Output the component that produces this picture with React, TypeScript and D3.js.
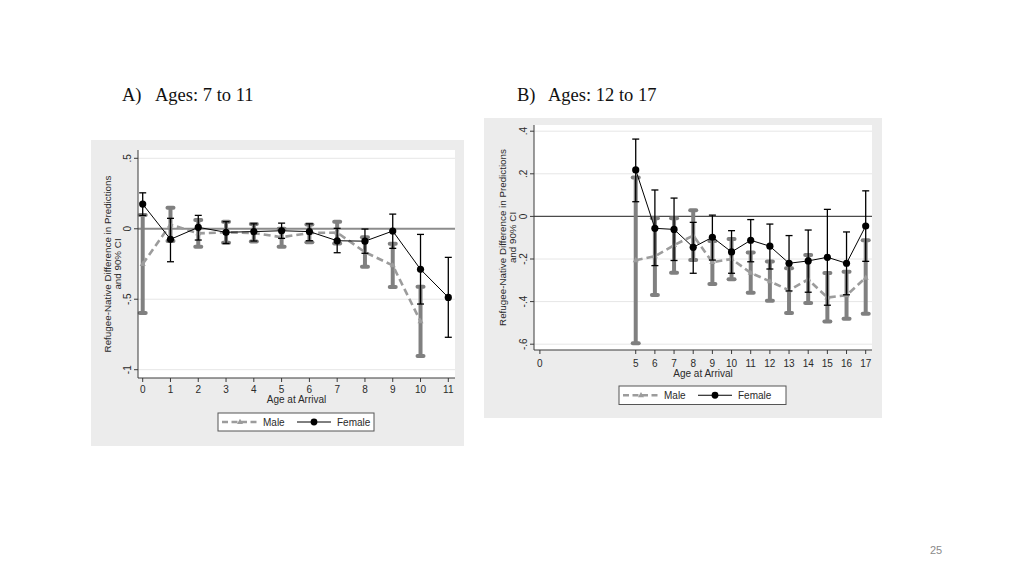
import React from "react";
import * as d3 from "d3";

// ---------- Panel A data (ages 7 to 11) ----------
const leftFemaleAges = [0, 1, 2, 3, 4, 5, 6, 7, 8, 9, 10, 11];
const leftFemale = [0.175, -0.075, 0.01, -0.025, -0.02, -0.014, -0.02, -0.085, -0.088, -0.016, -0.288, -0.487];
const leftFemaleLo = [0.095, -0.234, -0.08, -0.104, -0.087, -0.068, -0.085, -0.17, -0.174, -0.139, -0.534, -0.77];
const leftFemaleHi = [0.255, 0.074, 0.095, 0.05, 0.035, 0.04, 0.035, 0.003, -0.002, 0.104, -0.04, -0.203];
const leftMaleAges = [0, 1, 2, 3, 4, 5, 6, 7, 8, 9, 10];
const leftMale = [-0.25, 0.03, -0.033, -0.025, -0.03, -0.06, -0.03, -0.027, -0.166, -0.26, -0.657];
const leftMaleLo = [-0.598, -0.087, -0.127, -0.099, -0.09, -0.127, -0.095, -0.104, -0.27, -0.414, -0.903];
const leftMaleHi = [0.097, 0.149, 0.062, 0.05, 0.033, 0.0, 0.03, 0.05, -0.061, -0.106, -0.411];
const leftXTicks = [0, 1, 2, 3, 4, 5, 6, 7, 8, 9, 10, 11];
const leftYTicks = [0.5, 0, -0.5, -1];
const leftYTickLabels = [".5", "0", "-.5", "-1"];

// ---------- Panel B data (ages 12 to 17) ----------
const rightAges = [5, 6, 7, 8, 9, 10, 11, 12, 13, 14, 15, 16, 17];
const rightFemale = [0.218, -0.056, -0.061, -0.145, -0.098, -0.167, -0.112, -0.14, -0.22, -0.209, -0.192, -0.22, -0.045];
const rightFemaleLo = [0.069, -0.231, -0.207, -0.267, -0.205, -0.267, -0.213, -0.247, -0.35, -0.356, -0.417, -0.368, -0.211];
const rightFemaleHi = [0.363, 0.124, 0.086, -0.028, 0.006, -0.067, -0.015, -0.036, -0.09, -0.064, 0.033, -0.073, 0.12];
const rightMale = [-0.206, -0.187, -0.135, -0.09, -0.215, -0.2, -0.265, -0.305, -0.347, -0.296, -0.381, -0.37, -0.288];
const rightMaleLo = [-0.596, -0.369, -0.264, -0.205, -0.317, -0.295, -0.358, -0.396, -0.454, -0.407, -0.494, -0.481, -0.457];
const rightMaleHi = [0.183, -0.009, -0.009, 0.029, -0.115, -0.106, -0.17, -0.212, -0.244, -0.181, -0.266, -0.26, -0.112];
const rightXTicks = [0, 5, 6, 7, 8, 9, 10, 11, 12, 13, 14, 15, 16, 17];
const rightYTicks = [0.4, 0.2, 0, -0.2, -0.4, -0.6];
const rightYTickLabels = [".4", ".2", "0", "-.2", "-.4", "-.6"];

const yTitle1 = "Refugee-Native Difference in Predictions";
const yTitle2 = "and 90% CI";
const xTitle = "Age at Arrival";
const legendLabels = ["Male", "Female"];

const SANS = "'Liberation Sans', Arial, Helvetica, sans-serif";
const SERIF = "'Liberation Serif', 'Times New Roman', serif";
const MALE_BAR = "#808080";
const MALE_LINE = "#9c9c9c";
const TXT = "#2a2a2a";

type PanelProps = {
  bg: { x: number; y: number; w: number; h: number };
  plot: { x1: number; x2: number; y1: number; y2: number };
  xDomain: [number, number];
  xRange: [number, number];
  yDomain: [number, number];
  yRange: [number, number];
  xTicks: number[];
  yTicks: number[];
  yTickLabels: string[];
  zeroColor: string;
  zeroWidth: number;
  fAges: number[];
  f: number[];
  fLo: number[];
  fHi: number[];
  mAges: number[];
  m: number[];
  mLo: number[];
  mHi: number[];
  legend: { x: number; y: number; w: number; h: number };
  yTitleX: [number, number];
  yTickX: number;
  xTickY: number;
  xTitleY: number;
};

function triPath(cx: number, cy: number, s: number) {
  return `M${cx},${cy - s}L${cx + s * 0.95},${cy + s * 0.6}L${cx - s * 0.95},${cy + s * 0.6}Z`;
}

function Panel(p: PanelProps) {
  const x = d3.scaleLinear().domain(p.xDomain).range(p.xRange);
  const y = d3.scaleLinear().domain(p.yDomain).range(p.yRange);
  const maleLine = d3
    .line<number>()
    .x((_, i) => x(p.mAges[i]))
    .y((d) => y(d));
  const femLine = d3
    .line<number>()
    .x((_, i) => x(p.fAges[i]))
    .y((d) => y(d));
  const { plot } = p;
  const midY = (plot.y1 + plot.y2) / 2;
  const lg = p.legend;
  const lgCy = lg.y + lg.h / 2;
  const midX = (plot.x1 + plot.x2) / 2;
  return (
    <g>
      <rect x={p.bg.x} y={p.bg.y} width={p.bg.w} height={p.bg.h} fill="#ececec" />
      <rect x={plot.x1} y={plot.y1} width={plot.x2 - plot.x1} height={plot.y2 - plot.y1} fill="#ffffff" />
      {p.yTicks.map((t) =>
        t === 0 ? null : (
          <line key={"g" + t} x1={plot.x1} x2={plot.x2} y1={y(t)} y2={y(t)} stroke="#e6e6e6" strokeWidth={1} />
        )
      )}
      <line x1={plot.x1} x2={plot.x2} y1={y(0)} y2={y(0)} stroke={p.zeroColor} strokeWidth={p.zeroWidth} />
      {p.mAges.map((a, i) => (
        <g key={"mci" + a}>
          <line x1={x(a)} x2={x(a)} y1={y(p.mHi[i])} y2={y(p.mLo[i])} stroke={MALE_BAR} strokeWidth={4} />
          <line x1={x(a) - 3} x2={x(a) + 3} y1={y(p.mHi[i])} y2={y(p.mHi[i])} stroke={MALE_BAR} strokeWidth={4} strokeLinecap="round" />
          <line x1={x(a) - 3} x2={x(a) + 3} y1={y(p.mLo[i])} y2={y(p.mLo[i])} stroke={MALE_BAR} strokeWidth={4} strokeLinecap="round" />
        </g>
      ))}
      <path d={maleLine(p.m) || ""} fill="none" stroke={MALE_LINE} strokeWidth={2.6} strokeDasharray="7,4" />
      {p.mAges.map((a, i) => (
        <path key={"mt" + a} d={triPath(x(a), y(p.m[i]), 3.2)} fill={MALE_LINE} />
      ))}
      {p.fAges.map((a, i) => (
        <g key={"fci" + a}>
          <line x1={x(a)} x2={x(a)} y1={y(p.fHi[i])} y2={y(p.fLo[i])} stroke="#000" strokeWidth={1.3} />
          <line x1={x(a) - 3.5} x2={x(a) + 3.5} y1={y(p.fHi[i])} y2={y(p.fHi[i])} stroke="#000" strokeWidth={1.3} />
          <line x1={x(a) - 3.5} x2={x(a) + 3.5} y1={y(p.fLo[i])} y2={y(p.fLo[i])} stroke="#000" strokeWidth={1.3} />
        </g>
      ))}
      <path d={femLine(p.f) || ""} fill="none" stroke="#000" strokeWidth={1} />
      {p.fAges.map((a, i) => (
        <circle key={"fc" + a} cx={x(a)} cy={y(p.f[i])} r={3.6} fill="#000" />
      ))}
      <line x1={plot.x1} x2={plot.x1} y1={plot.y1} y2={plot.y2} stroke="#3a3a3a" strokeWidth={1} />
      <line x1={plot.x1} x2={plot.x2} y1={plot.y2} y2={plot.y2} stroke="#3a3a3a" strokeWidth={1} />
      {p.yTicks.map((t, i) => (
        <g key={"yt" + t}>
          <line x1={plot.x1 - 4} x2={plot.x1} y1={y(t)} y2={y(t)} stroke="#3a3a3a" strokeWidth={1} />
          <text
            transform={`translate(${p.yTickX},${y(t)}) rotate(-90)`}
            textAnchor="middle"
            dy="0.35em"
            fontFamily={SANS}
            fontSize={10}
            fill={TXT}
          >
            {p.yTickLabels[i]}
          </text>
        </g>
      ))}
      {p.xTicks.map((t) => (
        <g key={"xt" + t}>
          <line x1={x(t)} x2={x(t)} y1={plot.y2} y2={plot.y2 + 4} stroke="#3a3a3a" strokeWidth={1} />
          <text x={x(t)} y={p.xTickY} textAnchor="middle" fontFamily={SANS} fontSize={10} fill={TXT}>
            {t}
          </text>
        </g>
      ))}
      <text x={midX} y={p.xTitleY} textAnchor="middle" fontFamily={SANS} fontSize={10} fill={TXT}>
        {xTitle}
      </text>
      <text
        transform={`translate(${p.yTitleX[0]},${midY}) rotate(-90)`}
        textAnchor="middle"
        dy="0.35em"
        fontFamily={SANS}
        fontSize={9.8}
        fill={TXT}
      >
        {yTitle1}
      </text>
      <text
        transform={`translate(${p.yTitleX[1]},${midY}) rotate(-90)`}
        textAnchor="middle"
        dy="0.35em"
        fontFamily={SANS}
        fontSize={9.8}
        fill={TXT}
      >
        {yTitle2}
      </text>
      <rect x={lg.x} y={lg.y} width={lg.w} height={lg.h} fill="#fff" stroke="#555" strokeWidth={1} />
      <line x1={lg.x + 4} x2={lg.x + 39} y1={lgCy} y2={lgCy} stroke={MALE_LINE} strokeWidth={2.6} strokeDasharray="6,3.5" />
      <path d={triPath(lg.x + 22, lgCy, 3.2)} fill={MALE_LINE} />
      <text x={lg.x + 45} y={lgCy} dy="0.35em" fontFamily={SANS} fontSize={10} fill={TXT}>
        {legendLabels[0]}
      </text>
      <line x1={lg.x + 79} x2={lg.x + 113} y1={lgCy} y2={lgCy} stroke="#000" strokeWidth={1} />
      <circle cx={lg.x + 96} cy={lgCy} r={3.4} fill="#000" />
      <text x={lg.x + 119} y={lgCy} dy="0.35em" fontFamily={SANS} fontSize={10} fill={TXT}>
        {legendLabels[1]}
      </text>
    </g>
  );
}

export default function App() {
  return (
    <div style={{ position: "absolute", left: 0, top: 0, width: 1024, height: 576, background: "#fff" }}>
      <svg width={1024} height={576} style={{ display: "block" }}>
        <rect x={0} y={0} width={1024} height={576} fill="#fff" />
        <text x={122} y={101} fontFamily={SERIF} fontSize={18.5} fill="#111">A)</text>
        <text x={155} y={101} fontFamily={SERIF} fontSize={18.5} fill="#111">Ages: 7 to 11</text>
        <text x={517} y={101} fontFamily={SERIF} fontSize={18.5} fill="#111">B)</text>
        <text x={548} y={101} fontFamily={SERIF} fontSize={18.5} fill="#111">Ages: 12 to 17</text>
        <Panel
          bg={{ x: 91, y: 140, w: 373, h: 306 }}
          plot={{ x1: 138, x2: 455, y1: 150, y2: 378 }}
          xDomain={[0, 11]}
          xRange={[142.7, 448.3]}
          yDomain={[0.5, -1]}
          yRange={[158.3, 369.7]}
          xTicks={leftXTicks}
          yTicks={leftYTicks}
          yTickLabels={leftYTickLabels}
          zeroColor="#8c8c8c"
          zeroWidth={2}
          fAges={leftFemaleAges}
          f={leftFemale}
          fLo={leftFemaleLo}
          fHi={leftFemaleHi}
          mAges={leftMaleAges}
          m={leftMale}
          mLo={leftMaleLo}
          mHi={leftMaleHi}
          legend={{ x: 218, y: 413, w: 156, h: 18 }}
          yTitleX={[108, 117.5]}
          yTickX={127.5}
          xTickY={393}
          xTitleY={403}
        />
        <Panel
          bg={{ x: 484, y: 118, w: 398, h: 300 }}
          plot={{ x1: 534, x2: 872, y1: 125, y2: 350 }}
          xDomain={[0, 17]}
          xRange={[539.9, 865.7]}
          yDomain={[0.4, -0.6]}
          yRange={[131.2, 344.2]}
          xTicks={rightXTicks}
          yTicks={rightYTicks}
          yTickLabels={rightYTickLabels}
          zeroColor="#4a4a4a"
          zeroWidth={1.2}
          fAges={rightAges}
          f={rightFemale}
          fLo={rightFemaleLo}
          fHi={rightFemaleHi}
          mAges={rightAges}
          m={rightMale}
          mLo={rightMaleLo}
          mHi={rightMaleHi}
          legend={{ x: 619, y: 386, w: 167, h: 18.5 }}
          yTitleX={[503, 513]}
          yTickX={523.5}
          xTickY={367}
          xTitleY={376.5}
        />
        <text x={930} y={554} fontFamily={SANS} fontSize={11} fill="#8a8a8a">25</text>
      </svg>
    </div>
  );
}
